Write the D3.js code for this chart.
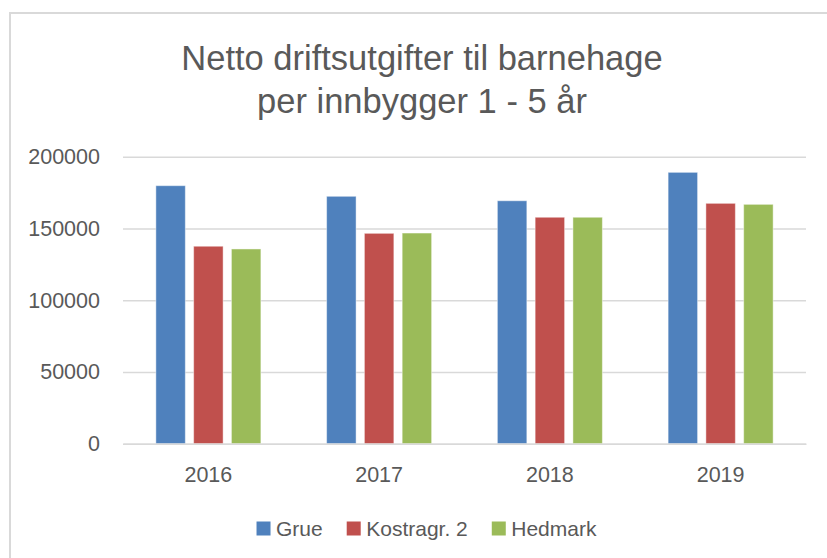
<!DOCTYPE html>
<html>
<head>
<meta charset="utf-8">
<script src="https://d3js.org/d3.v7.min.js"></script>
<style>
  body { margin: 0; background: #fff; }
  svg { display: block; }
</style>
</head>
<body>
<div id="chart"></div>

<script>

// data
var years = ["2016", "2017", "2018", "2019"];
var seriesNames = ["Grue", "Kostragr. 2", "Hedmark"];
var grue = [179800, 172400, 169300, 189100];
var kostra = [137600, 146600, 157800, 167500];
var hedmark = [135700, 146800, 157800, 166800];
var yTicks = [0, 50000, 100000, 150000, 200000];
var colors = ["#4F81BD", "#C0504D", "#9BBB59"];

var W = 827, H = 558;
var margin = {top: 156.7, right: 21, bottom: 114.3, left: 123},
    width = W - margin.left - margin.right,
    height = H - margin.top - margin.bottom;

var font = "'Liberation Sans', Arial, sans-serif";
var textColor = "#595959";
var gridColor = "#d9d9d9";

var svgRoot = d3.select("#chart")
  .append("svg")
    .attr("width", W)
    .attr("height", H);

// chart frame (runs off the right and bottom edge)
svgRoot.append("rect")
    .attr("x", 10)
    .attr("y", 13)
    .attr("width", 840)
    .attr("height", 600)
    .attr("fill", "#fff")
    .attr("stroke", gridColor)
    .attr("stroke-width", 2);

// title
var title = svgRoot.append("text")
    .attr("text-anchor", "middle")
    .attr("font-family", font)
    .attr("font-size", "34.5px")
    .attr("fill", textColor);
title.append("tspan").attr("x", 422).attr("y", 70).text("Netto driftsutgifter til barnehage");
title.append("tspan").attr("x", 422).attr("y", 113).text("per innbygger 1 - 5 år");

var svg = svgRoot.append("g")
    .attr("transform", "translate(" + margin.left + "," + margin.top + ")");

var y = d3.scaleLinear()
    .domain([0, 200000])
    .range([height, 0]);

var x0 = d3.scaleBand()
    .domain(years)
    .range([0, width])
    .paddingInner(0.385)
    .paddingOuter(0.1925);

var x1 = d3.scaleBand()
    .domain(seriesNames)
    .range([0, x0.bandwidth()])
    .paddingInner(0.22);

var color = d3.scaleOrdinal()
    .domain(seriesNames)
    .range(colors);

// gridlines + y labels
var yAxis = svg.append("g")
    .call(d3.axisLeft(y).tickValues(yTicks).tickSize(-width).tickPadding(23).tickFormat(d3.format("d")));
yAxis.select(".domain").remove();
yAxis.selectAll("line").attr("stroke", gridColor).attr("stroke-width", 1.5);
yAxis.selectAll("text")
    .attr("font-family", font)
    .attr("font-size", "21.5px")
    .attr("fill", textColor);

// bars
var rows = years.map(function(yr, i) {
  return {year: yr, values: [grue[i], kostra[i], hedmark[i]]};
});

svg.append("g")
  .selectAll("g")
  .data(rows)
  .enter().append("g")
    .attr("transform", function(d) { return "translate(" + x0(d.year) + ",0)"; })
  .selectAll("rect")
  .data(function(d) { return seriesNames.map(function(s, j) { return {key: s, value: d.values[j]}; }); })
  .enter().append("rect")
    .attr("x", function(d) { return x1(d.key); })
    .attr("y", function(d) { return y(d.value); })
    .attr("width", x1.bandwidth())
    .attr("height", function(d) { return height - y(d.value); })
    .attr("fill", function(d) { return color(d.key); })
    .attr("stroke", "#fff")
    .attr("stroke-opacity", 0.45)
    .attr("stroke-width", 1);

// x axis (baseline redrawn over bars)
var xAxis = svg.append("g")
    .attr("transform", "translate(0," + height + ")")
    .call(d3.axisBottom(x0).tickSize(0).tickPadding(23));
xAxis.select(".domain").attr("stroke", gridColor).attr("stroke-width", 1.5);
xAxis.selectAll("text")
    .attr("font-family", font)
    .attr("font-size", "21.5px")
    .attr("fill", textColor);

// legend
var legend = svgRoot.append("g")
    .attr("font-family", font)
    .attr("font-size", "21px")
    .attr("fill", textColor);

var items = legend.selectAll("g")
  .data(seriesNames)
  .enter().append("g");

items.append("rect")
    .attr("width", 14)
    .attr("height", 14)
    .attr("y", 521.5)
    .attr("fill", function(d) { return color(d); });

items.append("text")
    .attr("x", 19.5)
    .attr("y", 536)
    .text(function(d) { return d; });

// lay out legend items side by side, centred
var gap = 24, offsets = [], cur = 0;
items.each(function() {
  offsets.push(cur);
  cur += 19.5 + d3.select(this).select("text").node().getComputedTextLength() + gap;
});
var total = cur - gap;
var startX = 426.5 - total / 2;
items.attr("transform", function(d, i) { return "translate(" + (startX + offsets[i]) + ",0)"; });

</script>
</body>
</html>
